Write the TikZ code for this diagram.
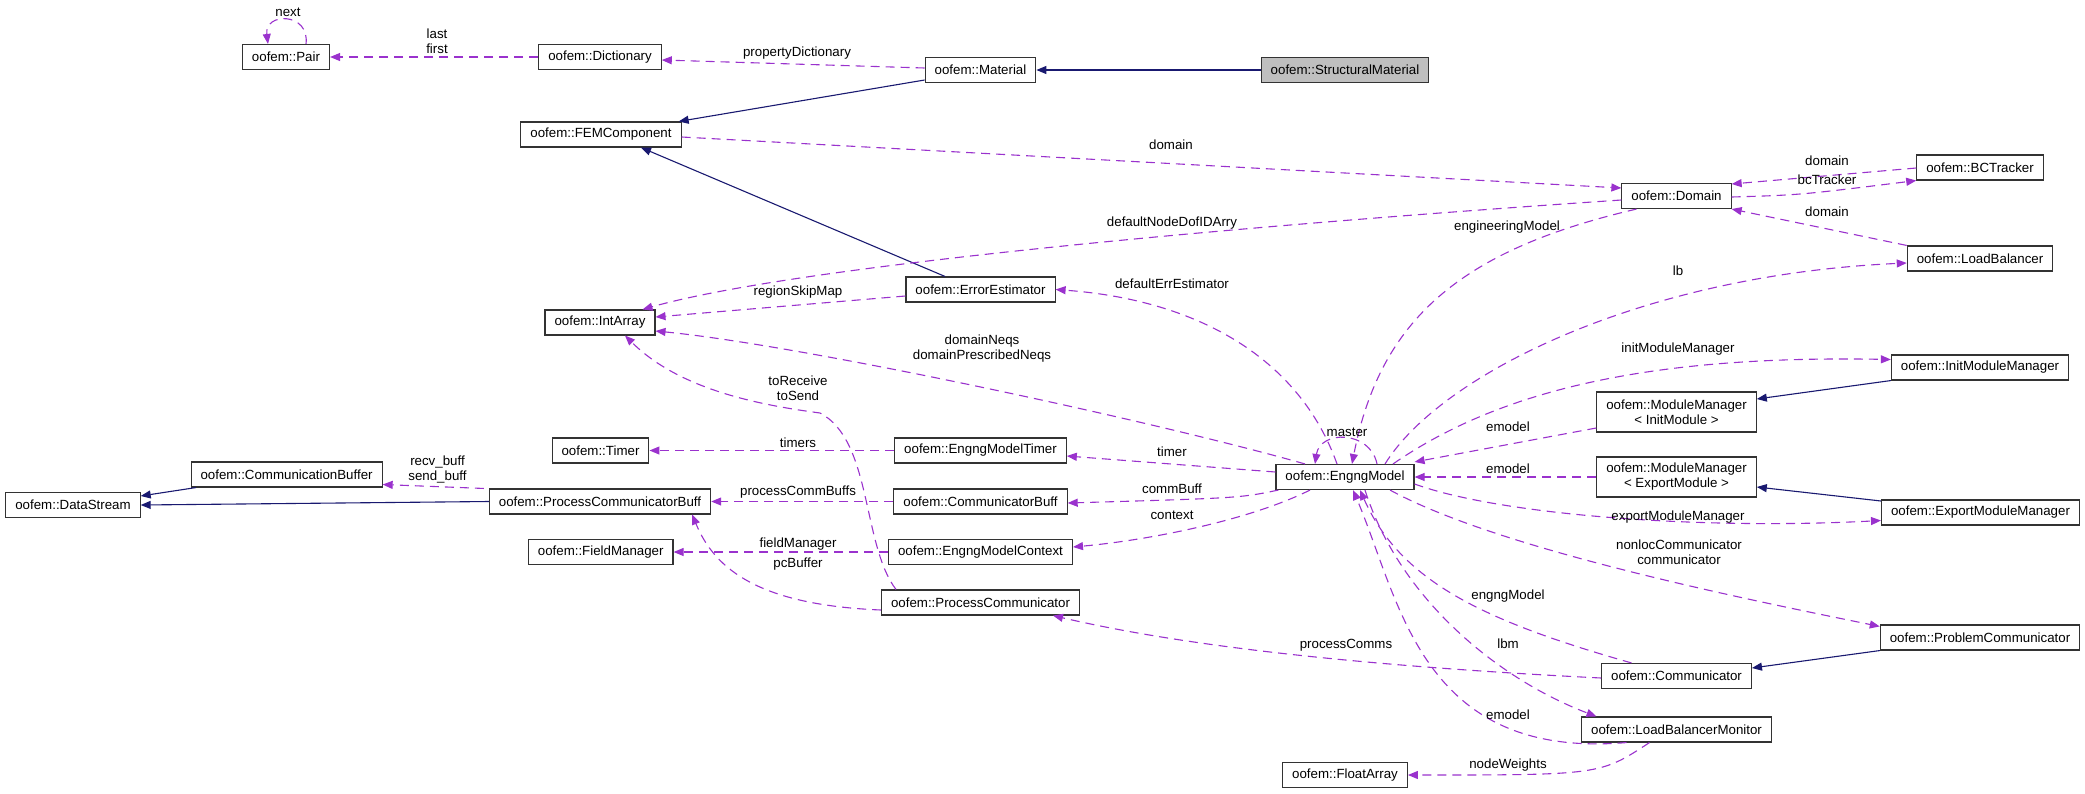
\documentclass[tikz,border=0pt]{standalone}
\usepackage{fontspec}
\setmainfont{Liberation Sans}
\usetikzlibrary{arrows.meta}

\definecolor{usagecol}{HTML}{9A32CD}
\definecolor{inheritcol}{HTML}{191970}

\begin{document}
\begin{tikzpicture}[x=1pt,y=-1pt,>={Triangle[length=10pt,width=8pt]},font=\fontsize{13.3}{15}\selectfont]

    \tikzstyle{cls}=[draw=black!80,fill=white,line width=1.1pt,minimum height=25pt,inner xsep=9.5pt,inner ysep=2pt,align=center]
    \tikzstyle{cur}=[cls,fill=black!25]
    \tikzstyle{usage}=[->,draw=usagecol,line width=1.1pt,dash pattern=on 9pt off 6pt]
    \tikzstyle{inherit}=[->,draw=inheritcol,line width=1.1pt]
    \tikzstyle{lbl}=[inner sep=0pt,align=center]

    \useasboundingbox (0,0) rectangle (2085,793);

    % classes
    \node [cls] (pair) at (286,57) {oofem::Pair};
    \node [cls] (dict) at (600,57) {oofem::Dictionary};
    \node [cls] (material) at (980.5,70) {oofem::Material};
    \node [cur] (structmat) at (1345,70) {oofem::StructuralMaterial};
    \node [cls] (fem) at (601,134.5) {oofem::FEMComponent};
    \node [cls] (domain) at (1676.5,196) {oofem::Domain};
    \node [cls] (bctracker) at (1980,167.5) {oofem::BCTracker};
    \node [cls] (loadbal) at (1980,258.5) {oofem::LoadBalancer};
    \node [cls] (errest) at (980.5,289.5) {oofem::ErrorEstimator};
    \node [cls] (intarray) at (600,322.5) {oofem::IntArray};
    \node [cls] (initmm) at (1980,367.5) {oofem::InitModuleManager};
    \node [cls, minimum height=40pt] (mminit) at (1676.5,412) {oofem::ModuleManager\\\textless{} InitModule \textgreater};
    \node [cls] (timer) at (600.5,450.5) {oofem::Timer};
    \node [cls] (emtimer) at (980.5,450.5) {oofem::EngngModelTimer};
    \node [cls] (engng) at (1345,477) {oofem::EngngModel};
    \node [cls, minimum height=40pt] (mmexport) at (1676.5,477) {oofem::ModuleManager\\\textless{} ExportModule \textgreater};
    \node [cls] (commbuf) at (286.6,474.5) {oofem::CommunicationBuffer};
    \node [cls] (datastream) at (73,505) {oofem::DataStream};
    \node [cls] (pcbuff) at (600,501.5) {oofem::ProcessCommunicatorBuff};
    \node [cls] (commbuff) at (980.5,501.5) {oofem::CommunicatorBuff};
    \node [cls] (exportmm) at (1980.5,512.5) {oofem::ExportModuleManager};
    \node [cls] (fieldmgr) at (600.7,552) {oofem::FieldManager};
    \node [cls] (emctx) at (980.5,552) {oofem::EngngModelContext};
    \node [cls] (proccomm) at (980.5,602.5) {oofem::ProcessCommunicator};
    \node [cls] (probcomm) at (1980,637.5) {oofem::ProblemCommunicator};
    \node [cls] (comm) at (1676.5,676) {oofem::Communicator};
    \node [cls] (lbmon) at (1676.5,729.5) {oofem::LoadBalancerMonitor};
    \node [cls] (floatarr) at (1345,775) {oofem::FloatArray};

    % inheritance
    \draw [inherit] (structmat.west) -- (material.east);
    \draw [inherit] ([yshift=-10pt]material.west) -- ([xshift=-3pt]fem.north east);
    \draw [inherit] ([xshift=-35.5pt]errest.north) -- ([xshift=40pt]fem.south);
    \draw [inherit] ([xshift=-90.6pt]commbuf.south) -- ([yshift=9pt]datastream.east);
    \draw [inherit] (pcbuff.west) -- (datastream.east);
    \draw [inherit] (initmm.south west) -- ([yshift=13pt]mminit.east);
    \draw [inherit] ([yshift=11.5pt]exportmm.west) -- ([yshift=-10pt]mmexport.east);
    \draw [inherit] (probcomm.south west) -- ([yshift=8pt]comm.east);

    % usage
    \draw [usage] ([xshift=20pt]pair.north) .. controls (310,12) and (264,12) .. ([xshift=-18pt]pair.north);
    \node [lbl] (lnext) at (288,12) {next};
    \draw [usage] (dict.west) -- (pair.east);
    \node [lbl] (llast) at (437,41.5) {last\\first};
    \draw [usage] ([yshift=2pt]material.west) -- ([yshift=-3pt]dict.east);
    \node [lbl] (lpropdict) at (797,53) {propertyDictionary};
    \draw [usage] ([yshift=-2.5pt]fem.east) -- ([yshift=8pt]domain.west);
    \node [lbl] (lfemdomain) at (1171,145) {domain};
    \draw [usage] ([yshift=-4pt]domain.west) .. controls (1250,225) and (800,265) .. ([xshift=-13pt]intarray.north east);
    \node [lbl] (ldofid) at (1172,223) {defaultNodeDofIDArry};
    \draw [usage] ([yshift=-6.5pt]errest.west) -- ([yshift=5.5pt]intarray.east);
    \node [lbl] (lregion) at (798,292) {regionSkipMap};
    \draw [usage] ([xshift=-40pt]engng.north) .. controls (1150,420) and (800,345) .. ([yshift=-8.5pt]intarray.east);
    \node [lbl] (lneqs) at (982,348.5) {domainNeqs\\domainPrescribedNeqs};
    \draw [usage] ([xshift=-8pt]engng.north) .. controls (1300,360) and (1200,300) .. (errest.east);
    \node [lbl] (lerrest) at (1172,284) {defaultErrEstimator};
    \draw [usage] ([xshift=-84.5pt]proccomm.north) .. controls (862,545) and (872,440) .. (820,413)
        .. controls (760,405) and (680,390) .. ([xshift=25pt]intarray.south);
    \node [lbl] (lsend) at (798,388.5) {toReceive\\toSend};
    \draw [usage] (emtimer.west) -- (timer.east);
    \node [lbl] (ltimers) at (798,443) {timers};
    \draw [usage] ([yshift=5pt]engng.west) -- ([yshift=-5.5pt]emtimer.east);
    \node [lbl] (ltimer) at (1172,452) {timer};
    \draw [usage] ([xshift=-5pt]pcbuff.north west) -- ([yshift=-10pt]commbuf.east);
    \node [lbl] (lbuff) at (437.5,469.5) {recv\_buff\\send\_buff};
    \draw [usage] (commbuff.west) -- (pcbuff.east);
    \node [lbl] (lpcbuffs) at (798,492) {processCommBuffs};
    \draw [usage] ([xshift=3pt]engng.south west) .. controls (1240,498) .. ([yshift=-1.5pt]commbuff.east);
    \node [lbl] (lcommbuff) at (1172,489) {commBuff};
    \draw [usage] ([xshift=-35pt]engng.south) .. controls (1250,520) and (1150,540) .. ([yshift=5pt]emctx.east);
    \node [lbl] (lcontext) at (1172,515) {context};
    \draw [usage] (emctx.west) -- (fieldmgr.east);
    \node [lbl] (lfield) at (798,544) {fieldManager};
    \draw [usage] ([yshift=-7.5pt]proccomm.west) .. controls (760,605) and (715,570) .. ([xshift=-19pt]pcbuff.south east);
    \node [lbl] (lpcbuffer) at (798,564) {pcBuffer};
    \draw [usage] ([yshift=-2pt]comm.west) .. controls (1400,668) and (1200,650) .. ([xshift=72.5pt]proccomm.south);
    \node [lbl] (lprocs) at (1346,645) {processComms};
    \draw [usage] ([xshift=-40pt]domain.south) .. controls (1460,250) and (1380,320) .. ([xshift=7pt]engng.north);
    \node [lbl] (lengmodel) at (1507,227) {engineeringModel};
    \draw [usage] ([xshift=32pt]engng.north) .. controls (1370,430) and (1320,430) .. ([xshift=-30pt]engng.north);
    \node [lbl] (lmaster) at (1347,432) {master};
    \draw [usage] ([xshift=40pt]engng.north) .. controls (1440,375) and (1640,275) .. ([yshift=-4.5pt]loadbal.west);
    \node [lbl] (llb) at (1678,271) {lb};
    \draw [usage] ([xshift=48pt]engng.north) .. controls (1500,390) and (1650,355) .. ([yshift=8pt]initmm.west);
    \node [lbl] (linitmm) at (1678,349) {initModuleManager};
    \draw [usage] ([yshift=-16pt]mminit.west) -- ([yshift=2pt]engng.north east);
    \node [lbl] (lemodel1) at (1508,427) {emodel};
    \draw [usage] (mmexport.west) -- (engng.east);
    \node [lbl] (lemodel2) at (1508,469) {emodel};
    \draw [usage] ([yshift=-7pt]engng.east) .. controls (1500,515) and (1700,530) .. ([yshift=-8pt]exportmm.west);
    \node [lbl] (lexportmm) at (1678,517) {exportModuleManager};
    \draw [usage] ([xshift=45pt]engng.south) .. controls (1500,550) and (1750,600) .. ([yshift=-2pt]probcomm.north west);
    \node [lbl] (lnonloc) at (1679,552.5) {nonlocCommunicator\\communicator};
    \draw [usage] ([xshift=-45pt]comm.north) .. controls (1480,620) and (1400,580) .. ([xshift=15pt]engng.south);
    \node [lbl] (lengng) at (1508,596) {engngModel};
    \draw [usage] ([xshift=20pt]engng.south) .. controls (1400,600) and (1500,680) .. ([xshift=-80pt]lbmon.north);
    \node [lbl] (llbm) at (1508,644) {lbm};
    \draw [usage] ([xshift=-50pt]lbmon.south) .. controls (1420,760) and (1400,600) .. ([xshift=8pt]engng.south);
    \node [lbl] (lemodel3) at (1508,715) {emodel};
    \draw [usage] ([xshift=-27pt]lbmon.south) .. controls (1600,775) .. (floatarr.east);
    \node [lbl] (lweights) at (1508,765) {nodeWeights};
    \draw [usage] (loadbal.north west) -- (domain.south east);
    \node [lbl] (llbdomain) at (1827,212) {domain};
    \draw [usage] ([yshift=-0.5pt]bctracker.west) -- ([yshift=12pt]domain.east);
    \node [lbl] (lbcdomain) at (1827,161) {domain};
    \draw [usage] ([yshift=-1pt]domain.east) .. controls (1800,195) .. (bctracker.south west);
    \node [lbl] (lbct) at (1827,180) {bcTracker};

\end{tikzpicture}
\end{document}
